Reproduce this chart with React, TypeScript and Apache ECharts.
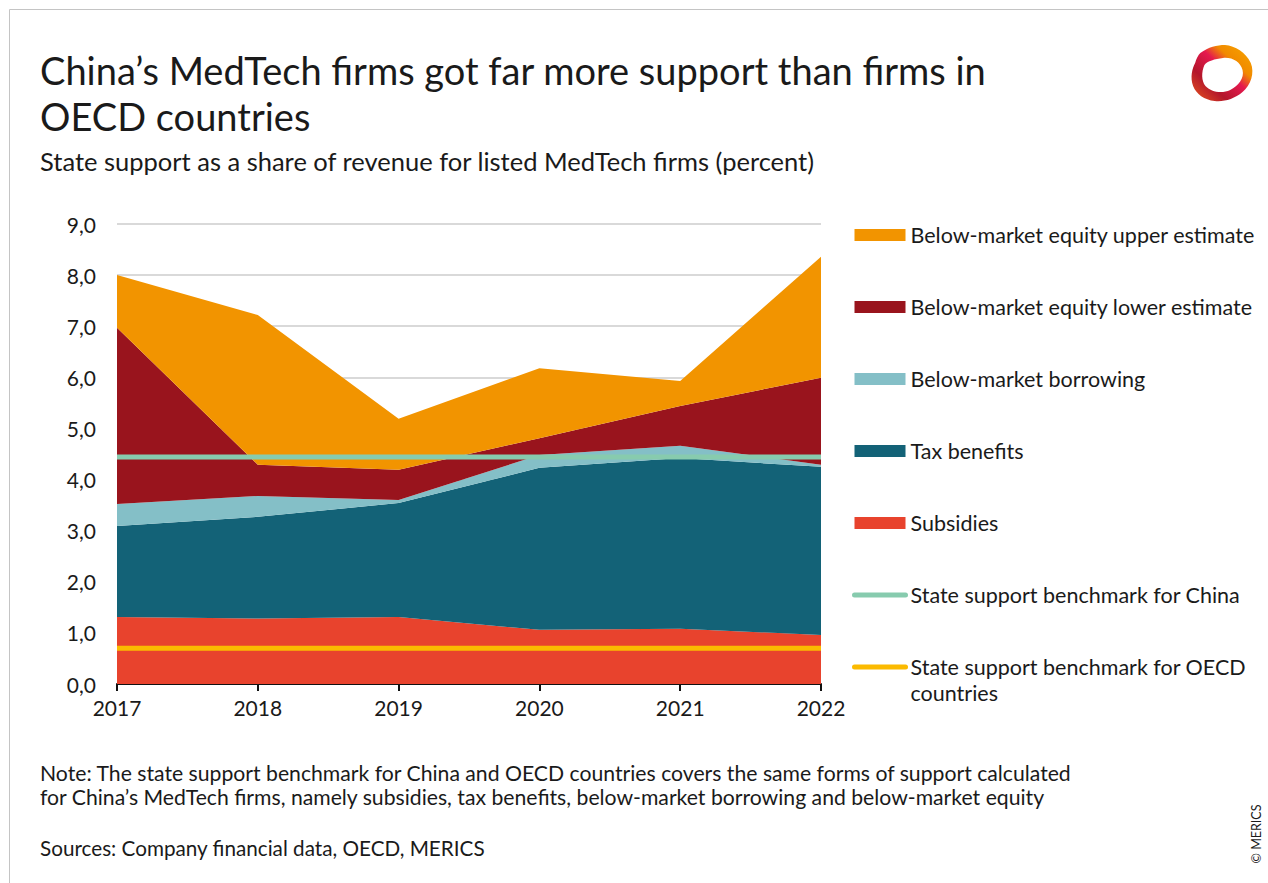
import React, { useEffect, useRef } from "react";
import * as echarts from "echarts";

const years = ["2017", "2018", "2019", "2020", "2021", "2022"];
const subsidies = [1.31, 1.28, 1.31, 1.06, 1.08, 0.96];
const taxBenefits = [1.78, 1.99, 2.23, 3.17, 3.34, 3.29];
const borrowing = [0.43, 0.41, 0.06, 0.25, 0.24, 0.04];
const equityLower = [3.45, 0.61, 0.59, 0.33, 0.78, 1.70];
const equityUpper = [1.03, 2.93, 1.00, 1.37, 0.49, 2.37];
const benchmarkChina = [4.44, 4.44, 4.44, 4.44, 4.44, 4.44];
const benchmarkOECD = [0.7, 0.7, 0.7, 0.7, 0.7, 0.7];
const yTicks = { min: 0, max: 9, interval: 1 };

const seriesNames = {
  upper: "Below-market equity upper estimate",
  lower: "Below-market equity lower estimate",
  borrow: "Below-market borrowing",
  tax: "Tax benefits",
  subs: "Subsidies",
  china: "State support benchmark for China",
  oecd: "State support benchmark for OECD countries",
};

const colors = {
  upper: "#F29400",
  lower: "#99141D",
  borrow: "#84BFC7",
  tax: "#136277",
  subs: "#E8432D",
  china: "#87CBAE",
  oecd: "#FBBA00",
};

const FONT = "Lato, 'Noto Sans', sans-serif";
const TXT = "#1a1a1a";

const logoPath =
  "M10 9 C18 3 26 1 34 1 C44 2 54 8 59 19 C63 29 59 41 51 48 C43 55 33 58 24 57 C14 56 6 50 3 42 C0 33 2 25 5 19 C6 15 8 11 10 9 Z " +
  "M14 21 C11 28 11 37 15 42 C20 48 31 50 39 46 C47 42 53 34 51 26 C49 18 41 13 32 14 C24 15 17 17 14 21 Z";
echarts.graphic.registerShape("logo", echarts.graphic.extendPath(logoPath, {}));

function areaSeries(key: string, data: number[]) {
  return {
    name: (seriesNames as any)[key],
    type: "line",
    stack: "total",
    data,
    symbol: "none",
    lineStyle: { width: 0, color: (colors as any)[key] },
    itemStyle: { color: (colors as any)[key] },
    areaStyle: { color: (colors as any)[key], opacity: 1 },
    z: 2,
  };
}

function lineSeries(key: string, data: number[]) {
  return {
    name: (seriesNames as any)[key],
    type: "line",
    data,
    symbol: "none",
    lineStyle: { width: 5, color: (colors as any)[key], cap: "butt" },
    itemStyle: { color: (colors as any)[key] },
    z: 5,
  };
}

const lineLegendItem = (key: string) => ({
  name: (seriesNames as any)[key],
  itemStyle: { color: "rgba(0,0,0,0)", borderWidth: 0, opacity: 0 },
  lineStyle: { width: 5, color: (colors as any)[key], cap: "round", opacity: 1 },
});

export default function App() {
  const ref = useRef<HTMLDivElement>(null);
  useEffect(() => {
    if (!ref.current) return;
    const chart = echarts.init(ref.current, undefined, { renderer: "svg" });
    const option: any = {
      animation: false,
      backgroundColor: "#ffffff",
      textStyle: { fontFamily: FONT },
      grid: { left: 117, right: 447, top: 224, bottom: 199, containLabel: false },
      xAxis: {
        type: "category",
        data: years,
        boundaryGap: false,
        axisLine: { lineStyle: { color: "#111", width: 2 } },
        axisTick: { show: true, length: 7, lineStyle: { color: "#111", width: 2 } },
        axisLabel: { color: TXT, fontSize: 21, fontFamily: FONT, margin: 13 },
        splitLine: { show: false },
      },
      yAxis: {
        type: "value",
        min: yTicks.min,
        max: yTicks.max,
        interval: yTicks.interval,
        axisLine: { show: false },
        axisTick: { show: false },
        axisLabel: {
          color: TXT,
          fontSize: 21,
          fontFamily: FONT,
          margin: 21,
          formatter: (v: number) => v.toFixed(1).replace(".", ","),
        },
        splitLine: { lineStyle: { color: "#cccccc", width: 1.5 } },
      },
      legend: [
        {
          orient: "vertical",
          left: 852,
          top: 223,
          itemWidth: 51,
          itemHeight: 12,
          itemGap: 48,
          padding: 0,
          selectedMode: false,
          textStyle: { color: TXT, fontSize: 21.5, fontFamily: FONT, lineHeight: 24 },
          data: [
            { name: seriesNames.upper, icon: "rect" },
            { name: seriesNames.lower, icon: "rect" },
            { name: seriesNames.borrow, icon: "rect" },
            { name: seriesNames.tax, icon: "rect" },
            { name: seriesNames.subs, icon: "rect" },
            lineLegendItem("china"),
          ],
        },
        {
          orient: "vertical",
          left: 852,
          top: 628,
          itemWidth: 51,
          itemHeight: 12,
          padding: 0,
          selectedMode: false,
          textStyle: { color: TXT, fontSize: 21.5, fontFamily: FONT, lineHeight: 26 },
          formatter: () => " \nState support benchmark for OECD\ncountries",
          data: [lineLegendItem("oecd")],
        },
      ],
      graphic: [
        {
          type: "rect",
          shape: { x: 9.5, y: 9.5, width: 1300, height: 900 },
          style: { fill: "none", stroke: "#c4c4c4", lineWidth: 1 },
          silent: true,
        },
        {
          type: "text",
          left: 40,
          top: 47,
          style: {
            text: "China’s MedTech firms got far more support than firms in\nOECD countries",
            font: `38px ${FONT}`,
            fill: TXT,
            lineHeight: 46,
          },
        },
        {
          type: "text",
          left: 40,
          top: 148,
          style: {
            text: "State support as a share of revenue for listed MedTech firms (percent)",
            font: `25.5px ${FONT}`,
            fill: TXT,
          },
        },
        {
          type: "text",
          left: 40,
          top: 761,
          style: {
            text:
              "Note: The state support benchmark for China and OECD countries covers the same forms of support calculated\nfor China’s MedTech firms, namely subsidies, tax benefits, below-market borrowing and below-market equity",
            font: `21.2px ${FONT}`,
            fill: TXT,
            lineHeight: 24,
          },
        },
        {
          type: "text",
          left: 40,
          top: 837,
          style: {
            text: "Sources: Company financial data, OECD, MERICS",
            font: `20.7px ${FONT}`,
            fill: TXT,
          },
        },
        {
          type: "text",
          x: 1263,
          y: 834,
          rotation: Math.PI / 2,
          style: {
            text: "© MERICS",
            font: `12.5px ${FONT}`,
            fill: TXT,
            align: "center",
            verticalAlign: "bottom",
          },
        },
        {
          type: "logo",
          x: 1190,
          y: 44,
          scaleX: 1.03,
          scaleY: 1.0,
          style: {
            fill: {
              type: "linear",
              x: 1,
              y: 0,
              x2: 0,
              y2: 1,
              colorStops: [
                { offset: 0, color: "#F7A800" },
                { offset: 0.3, color: "#F18A00" },
                { offset: 0.45, color: "#E5194F" },
                { offset: 0.7, color: "#B3162B" },
                { offset: 1, color: "#EA5A1E" },
              ],
            },
          },
        },
      ],
      series: [
        areaSeries("subs", subsidies),
        areaSeries("tax", taxBenefits),
        areaSeries("borrow", borrowing),
        areaSeries("lower", equityLower),
        areaSeries("upper", equityUpper),
        lineSeries("china", benchmarkChina),
        lineSeries("oecd", benchmarkOECD),
      ],
    };
    chart.setOption(option);
    return () => chart.dispose();
  }, []);
  return (
    <div
      ref={ref}
      style={{ position: "fixed", left: 0, top: 0, width: 1268, height: 883, background: "#fff" }}
    />
  );
}
